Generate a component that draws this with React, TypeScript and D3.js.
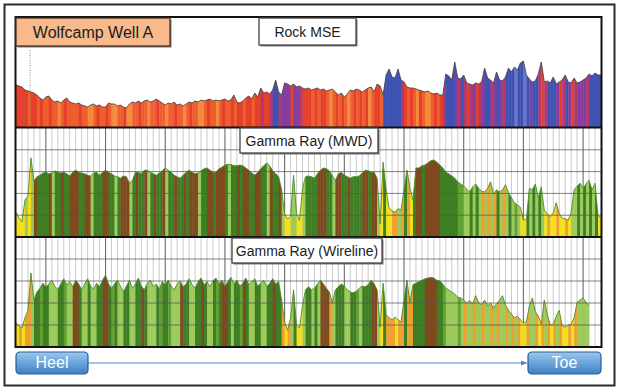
import * as d3 from 'd3';

const W = 620;
const H = 391;

// samples every half grid cell along the lateral, heel -> toe
// Rock MSE (kpsi)
const mseValues = [
  42, 41, 40, 37, 36, 35, 34, 32, 29, 27,
  30, 31, 27, 25, 26, 24, 27, 29, 25, 24,
  23, 24, 22, 21, 20, 22, 23, 21, 22, 20,
  20, 24, 23, 23, 21, 22, 20, 19, 23, 25,
  24, 26, 24, 26, 27, 25, 26, 28, 26, 24,
  22, 24, 23, 25, 22, 23, 21, 23, 25, 24,
  26, 25, 27, 26, 27, 28, 26, 27, 26, 27,
  28, 26, 27, 32, 25, 24, 26, 29, 31, 28,
  34, 30, 39, 34, 35, 33, 37, 47, 35, 32,
  44, 43, 41, 43, 40, 41, 39, 38, 39, 37,
  38, 39, 37, 38, 36, 37, 38, 35, 32, 34,
  30, 33, 37, 36, 38, 37, 35, 37, 39, 40,
  35, 43, 41, 32, 52, 58, 50, 49, 58, 47,
  45, 40, 39, 39, 38, 37, 36, 35, 36, 34,
  33, 34, 32, 32, 53, 51, 47, 65, 49, 48,
  52, 44, 43, 42, 44, 43, 45, 59, 49, 47,
  44, 55, 47, 46, 50, 59, 55, 60, 57, 64,
  66, 52, 48, 45, 46, 53, 65, 45, 46, 44,
  50, 43, 45, 47, 52, 45, 44, 49, 44, 45,
  47, 49, 53, 51, 54, 52, 52,
];
// R red, O orange, A light orange, M red-purple, P purple, U blue, W light blue
const mseColors =
  'RRRRORRORO' + 'OROOAOROOO' + 'OROOAAOROO' + 'ROAAOORAAO' + 'OROOAOOROO' +
  'AOOROOAORO' + 'OAAOROOAOR' + 'OORORRORRO' + 'RRMRRMUUMP' + 'PPRPPMRRRO' +
  'RORROAOROR' + 'OAORORORAO' + 'RROUUUUUUM' + 'ROROAROAAO' + 'RORMUUUPMU' +
  'MRMPRMPUUM' + 'PUPMUUUWUU' + 'WUPUUMRMUU' + 'UPRMUPRMPP' + 'PMUUUU';

// Gamma ray, MWD (API)
const mwdValues = [
  34, 26, 21, 51, 56, 109, 77, 83, 85, 88,
  89, 87, 88, 91, 89, 88, 89, 87, 84, 89,
  92, 89, 88, 87, 85, 84, 88, 89, 85, 89,
  92, 89, 87, 84, 83, 81, 84, 83, 74, 78,
  89, 89, 87, 92, 92, 89, 87, 85, 88, 91,
  95, 92, 89, 85, 83, 81, 85, 89, 92, 89,
  87, 88, 91, 94, 95, 92, 89, 89, 94, 96,
  99, 100, 100, 98, 98, 99, 98, 95, 92, 88,
  85, 89, 94, 98, 102, 98, 91, 87, 83, 65,
  32, 25, 29, 85, 32, 23, 67, 83, 84, 83,
  81, 87, 92, 95, 94, 91, 84, 78, 87, 89,
  85, 83, 81, 83, 83, 84, 88, 92, 91, 89,
  89, 81, 18, 103, 65, 40, 36, 34, 39, 37,
  65, 92, 67, 51, 95, 95, 98, 99, 102, 105,
  106, 103, 99, 95, 89, 87, 84, 81, 76, 73,
  70, 66, 62, 69, 73, 67, 63, 62, 67, 76,
  59, 65, 62, 65, 72, 61, 54, 47, 44, 41,
  23, 25, 67, 65, 73, 54, 69, 37, 32, 28,
  33, 47, 32, 26, 25, 23, 34, 65, 70, 74,
  67, 73, 78, 65, 74, 30, 26,
];
// D dark green, M green, L light green, B brown, Y yellow, O orange
const mwdColors =
  'YYYLYLBDDD' + 'DBLDDBDDBB' + 'BDDBBLDDDB' + 'BDDLDBBBLD' + 'BDDBLDBDDB' +
  'LDDBDDBDBB' + 'BLDDBBDBBB' + 'DLDDBDBBDD' + 'BBDDLBDDBL' + 'YYLLYYLDDD' +
  'DBBBDDLBBD' + 'DBDDDDBBDB' + 'BLYDYYOOLO' + 'DOYDBBDBBB' + 'BBDDDDDDMM' +
  'LLDLDLOLOL' + 'ODLOLDLMLY' + 'YDLDLDLYOY' + 'YOYYOYLLDL' + 'DLDLDY';

// Gamma ray, wireline (API)
const wirelineValues = [
  33, 29, 26, 40, 50, 101, 64, 75, 80, 87,
  82, 86, 91, 83, 78, 86, 93, 85, 89, 82,
  91, 86, 78, 86, 93, 83, 79, 87, 82, 91,
  98, 86, 80, 86, 91, 83, 75, 83, 91, 80,
  86, 94, 83, 78, 87, 91, 82, 86, 79, 89,
  85, 91, 83, 78, 86, 90, 82, 86, 93, 85,
  80, 89, 94, 85, 89, 82, 90, 94, 86, 91,
  83, 89, 95, 86, 91, 83, 87, 94, 85, 89,
  93, 83, 87, 91, 82, 87, 93, 86, 89, 64,
  34, 23, 40, 78, 29, 26, 57, 78, 82, 78,
  80, 86, 91, 86, 80, 75, 60, 78, 82, 86,
  83, 78, 75, 74, 76, 80, 83, 82, 85, 91,
  86, 78, 27, 87, 44, 40, 37, 41, 37, 34,
  64, 91, 60, 85, 87, 89, 91, 93, 94, 95,
  94, 91, 90, 86, 80, 78, 75, 72, 68, 67,
  64, 60, 63, 59, 70, 61, 57, 64, 56, 60,
  53, 59, 64, 70, 57, 50, 45, 40, 42, 37,
  33, 34, 56, 67, 48, 42, 31, 64, 45, 30,
  31, 42, 50, 29, 27, 30, 31, 40, 61, 64,
  67, 61, 57,
];
const wirelineColors =
  'YOYOOLDDMD' + 'DLLLDDMLLB' + 'BDLLDLLDDB' + 'BDMDLLDDLL' + 'DDBDLLLDMD' +
  'DMLLLBDDLL' + 'DDBDLLDMDB' + 'BDLDDMBDLL' + 'DDLLDDBDDO' + 'YOLDYYLDDL' +
  'DLBBBOLDDD' + 'LLDDMLDDDB' + 'BLYDOOOYOO' + 'DOODDDDBBB' + 'BDDMLLLLML' +
  'OLLOLLOLLO' + 'LOLLOLOLOY' + 'YOLLOYOLOY' + 'OLOYYOYOLL' + 'LL';

const msePalette: Record<string, string> = {
  R: '#e4402c', O: '#ee5e2e', A: '#f5893c', M: '#b03a70', P: '#853e9e', U: '#3d52b2', W: '#6c76c6',
};
const gammaPalette: Record<string, string> = {
  D: '#3f7f24', M: '#62a232', L: '#9ccb5c', B: '#7f4a1e', Y: '#f3df1e', O: '#eea030',
};

const gridCells = 98;
const x = d3.scaleLinear().domain([0, gridCells]).range([16, 601]);
const sx = (i: number) => x(i / 2);

const yMse = d3.scaleLinear().domain([0, 110]).range([127, 17]);
const yMwd = d3.scaleLinear().domain([0, 150]).range([237, 128]);
const yWire = d3.scaleLinear().domain([0, 150]).range([347, 237]);

const font = '"Liberation Sans", Arial, sans-serif';

function Track({ id, values, colors, palette, y, stroke }: {
  id: string; values: number[]; colors: string; palette: Record<string, string>;
  y: d3.ScaleLinear<number, number>; stroke: string;
}) {
  const area = d3.area<number>().x((_, i) => sx(i)).y0(y(0)).y1(d => y(d));
  const line = d3.line<number>().x((_, i) => sx(i)).y(d => y(d));
  const [bottom, top] = y.range();
  return (
    <g>
      <clipPath id={id}><path d={area(values) || ''} /></clipPath>
      <g clipPath={`url(#${id})`}>
        {colors.split('').map((c, i) => (
          <rect key={i} x={sx(i)} y={top} width={sx(i + 1) - sx(i) + 0.4} height={bottom - top} fill={palette[c]} />
        ))}
      </g>
      <path d={line(values) || ''} fill="none" stroke={stroke} strokeWidth={0.9} />
    </g>
  );
}

function Grid({ y }: { y: d3.ScaleLinear<number, number> }) {
  const [bottom, top] = y.range();
  return (
    <g>
      {d3.range(1, gridCells).map(i => (
        <line key={i} x1={x(i)} x2={x(i)} y1={top} y2={bottom}
          stroke={i % 10 === 5 ? '#6a6a6a' : '#c4c4c4'} strokeWidth={i % 10 === 5 ? 1.1 : 0.9} />
      ))}
    </g>
  );
}

function HLines({ y }: { y: d3.ScaleLinear<number, number> }) {
  return (
    <g>
      {[30, 60, 90, 120].map(v => (
        <line key={v} x1={16} x2={601} y1={y(v)} y2={y(v)} stroke="#555" strokeOpacity={0.75} strokeWidth={1} />
      ))}
    </g>
  );
}

function Label({ x0, x1, y0, y1, text, fill = '#fff', size = 14, border = '#444' }: {
  x0: number; x1: number; y0: number; y1: number; text: string; fill?: string; size?: number; border?: string;
}) {
  return (
    <g>
      <rect x={x0 + 1.5} y={y0 + 1.5} width={x1 - x0} height={y1 - y0} fill="#7a7a7a" />
      <rect x={x0} y={y0} width={x1 - x0} height={y1 - y0} fill={fill} stroke={border} strokeWidth={1.3} />
      <text x={(x0 + x1) / 2} y={(y0 + y1) / 2 + size * 0.36} textAnchor="middle"
        fontFamily={font} fontSize={size} fill="#1c1c1c">{text}</text>
    </g>
  );
}

function Button({ x0, x1, text }: { x0: number; x1: number; text: string }) {
  return (
    <g>
      <rect x={x0} y={352} width={x1 - x0} height={22} rx={4} fill="url(#btn)" stroke="#2c5c90" strokeWidth={1.2} />
      <text x={(x0 + x1) / 2} y={368} textAnchor="middle" fontFamily={font} fontSize={16} fill="#fff">{text}</text>
    </g>
  );
}

export default function App() {
  return (
    <svg width={W} height={H} style={{ position: 'absolute', left: 0, top: 0, background: '#fff' }}>
      <defs>
        <linearGradient id="btn" x1="0" y1="0" x2="0" y2="1">
          <stop offset="0" stopColor="#9cc8ef" />
          <stop offset="0.5" stopColor="#6aa4dc" />
          <stop offset="1" stopColor="#3f80c2" />
        </linearGradient>
      </defs>
      <rect x={4.5} y={4.5} width={610} height={381} fill="#fff" stroke="#2a2a2a" strokeWidth={2} />

      {/* Rock MSE track */}
      <Track id="mse" values={mseValues} colors={mseColors} palette={msePalette} y={yMse} stroke="#4a4a4a" />
      <line x1={30} x2={30} y1={50} y2={126} stroke="#777" strokeWidth={0.8} strokeDasharray="1 1.5" />
      <line x1={24} x2={24} y1={100} y2={126} stroke="#777" strokeWidth={0.8} strokeDasharray="1 1.5" />

      {/* Gamma MWD track */}
      <Grid y={yMwd} />
      <Track id="mwd" values={mwdValues} colors={mwdColors} palette={gammaPalette} y={yMwd} stroke="#4c8c2a" />
      <HLines y={yMwd} />

      {/* Gamma wireline track */}
      <Grid y={yWire} />
      <Track id="wire" values={wirelineValues} colors={wirelineColors} palette={gammaPalette} y={yWire} stroke="#4c8c2a" />
      <HLines y={yWire} />

      {/* frames */}
      <rect x={15.5} y={17} width={586} height={330} fill="none" stroke="#111" strokeWidth={2} />
      <line x1={15.5} x2={601.5} y1={127.5} y2={127.5} stroke="#111" strokeWidth={2} />
      <line x1={15.5} x2={601.5} y1={237} y2={237} stroke="#111" strokeWidth={2} />

      <Label x0={16} x1={170} y0={18} y1={46} text="Wolfcamp Well A" fill="#f8b98c" size={16} border="#4a3020" />
      <Label x0={259} x1={356} y0={18} y1={45} text="Rock MSE" />
      <Label x0={240} x1={378} y0={128} y1={153} text="Gamma Ray (MWD)" />
      <Label x0={232} x1={382} y0={238} y1={263} text="Gamma Ray (Wireline)" />

      <line x1={88} x2={524} y1={363} y2={363} stroke="#4f8cc8" strokeWidth={1.2} />
      <path d="M521,360.5 L528,363 L521,365.5 Z" fill="#4f8cc8" />
      <Button x0={16} x1={88} text="Heel" />
      <Button x0={528} x1={601} text="Toe" />
    </svg>
  );
}
